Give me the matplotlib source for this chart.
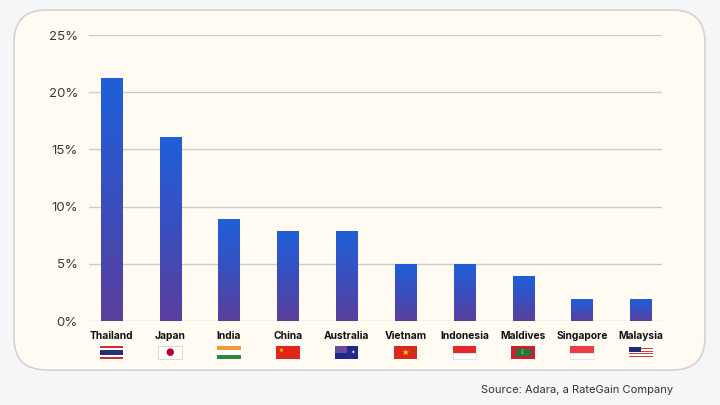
import numpy as np
import matplotlib.pyplot as plt
from matplotlib.patches import FancyBboxPatch, Rectangle
from matplotlib.colors import LinearSegmentedColormap
from matplotlib.transforms import blended_transform_factory

countries = ["Thailand", "Japan", "India", "China", "Australia",
             "Vietnam", "Indonesia", "Maldives", "Singapore", "Malaysia"]
shares = [21.2, 16.1, 8.9, 7.9, 7.9, 5.0, 5.0, 3.9, 1.9, 1.9]
yticks = [0, 5, 10, 15, 20, 25]

plt.rcParams['font.family'] = ['Inter', 'DejaVu Sans']

W, H = 720, 405
fig = plt.figure(figsize=(W / 100, H / 100), dpi=100)
fig.patch.set_facecolor('#f5f6f8')

# rounded panel behind everything
panel = FancyBboxPatch((14 / W, 1 - 370 / H), (705 - 14) / W, (370 - 10) / H,
                       boxstyle="round,pad=0,rounding_size=0.045",
                       transform=fig.transFigure, facecolor='#fffaf2',
                       edgecolor='#d5d3cf', linewidth=1.2,
                       mutation_aspect=W / H, zorder=-5)
fig.patches.append(panel)

# axes: 0% at y=321, 25% at y=35
ax_left, ax_right = 89 / W, 662 / W
ax_bot, ax_top = 1 - 321 / H, 1 - 35 / H
ax = fig.add_axes([ax_left, ax_bot, ax_right - ax_left, ax_top - ax_bot])
ax.set_facecolor('none')
n = len(countries)
x = np.arange(n)

for t in yticks:
    ax.axhline(t, color='#cfcdc9', linewidth=1.0, zorder=0)
ax.set_yticks(yticks)
ax.set_yticklabels([f"{t}%" for t in yticks], fontsize=9.5, color='#3a3a3a')
ax.tick_params(axis='y', length=0, pad=8)
ax.set_xticks([])
for s in ax.spines.values():
    s.set_visible(False)

cmap = LinearSegmentedColormap.from_list('bar', ['#5a3f9c', '#3a4fbf', '#1f5fd8'])
grad = np.linspace(0, 1, 256).reshape(-1, 1)
bw = 0.36
bars = ax.bar(x, shares, width=bw, color='none', edgecolor='none')
for b in bars:
    x0 = b.get_x()
    w, h = b.get_width(), b.get_height()
    im = ax.imshow(grad, cmap=cmap, origin='lower', aspect='auto',
                   extent=[x0, x0 + w, 0, h], zorder=2)
    im.set_clip_path(b)
ax.set_xlim(-0.38, n - 1 + 0.36)
ax.set_ylim(0, 25)

trans = blended_transform_factory(ax.transData, fig.transFigure)
for xi, name in zip(x, countries):
    fig.text(xi, 1 - 339 / H, name, transform=trans, fontsize=7.4, fontweight='bold',
             ha='center', va='baseline', color='#111111')

# simple flags
fw, fh = 0.40, 13 / H
fy = 1 - 359 / H


def rect(xl, y, w, h, c, ec='none'):
    fig.patches.append(Rectangle((xl, y), w, h, transform=trans, facecolor=c,
                                 edgecolor=ec, linewidth=0.5))


def glyph(xc, y, s, c, size):
    fig.text(xc, y, s, transform=trans, color=c, fontsize=size,
             ha='center', va='center', family=['DejaVu Sans'])


def flag(i, kind):
    x0 = i - fw / 2
    if kind == 'Thailand':
        cols = ['#d52b2b', '#ffffff', '#2d2a7a', '#2d2a7a', '#ffffff', '#d52b2b']
        for k, c in enumerate(cols):
            rect(x0, fy + fh * (5 - k) / 6, fw, fh / 6, c)
    elif kind == 'Japan':
        rect(x0, fy, fw, fh, '#ffffff', '#cccccc')
        glyph(i, fy + fh / 2, '\u25cf', '#bc002d', 7)
    elif kind == 'India':
        rect(x0, fy + 2 * fh / 3, fw, fh / 3, '#f59a38')
        rect(x0, fy + fh / 3, fw, fh / 3, '#ffffff')
        rect(x0, fy, fw, fh / 3, '#2a8a3a')
    elif kind == 'China':
        rect(x0, fy, fw, fh, '#e0261c')
        glyph(i - fw * 0.3, fy + fh * 0.68, '\u2605', '#ffde00', 4)
    elif kind == 'Australia':
        rect(x0, fy, fw, fh, '#1f2a8c')
        rect(x0, fy + fh / 2, fw / 2, fh / 2, '#6a4a9a')
        glyph(i + fw * 0.25, fy + fh * 0.5, '\u2736', '#ffffff', 4)
    elif kind == 'Vietnam':
        rect(x0, fy, fw, fh, '#d8291d')
        glyph(i, fy + fh / 2, '\u2605', '#ffde00', 6)
    elif kind == 'Indonesia':
        rect(x0, fy + fh / 2, fw, fh / 2, '#e5262b')
        rect(x0, fy, fw, fh / 2, '#ffffff', '#dddddd')
    elif kind == 'Maldives':
        rect(x0, fy, fw, fh, '#c8202f')
        rect(i - fw * 0.32, fy + fh * 0.2, fw * 0.64, fh * 0.6, '#1f7a3a')
        glyph(i, fy + fh / 2, '\u263e', '#ffffff', 4)
    elif kind == 'Singapore':
        rect(x0, fy + fh / 2, fw, fh / 2, '#ee3a43')
        rect(x0, fy, fw, fh / 2, '#ffffff', '#dddddd')
    elif kind == 'Malaysia':
        my = fy + fh * 0.15
        mh = fh * 0.8
        for k in range(8):
            rect(x0, my + mh * k / 8, fw, mh / 8,
                 '#d63a3a' if k % 2 == 0 else '#ffffff')
        rect(x0, my + mh * 0.5, fw / 2, mh * 0.5, '#1e2a7a')


for xi, name in zip(x, countries):
    flag(xi, name)

fig.text(673 / W, 1 - 390 / H, "Source: Adara, a RateGain Company",
         fontsize=8, color='#333333', ha='right', va='center')

fig.savefig('out.png', dpi=100, facecolor=fig.get_facecolor())
